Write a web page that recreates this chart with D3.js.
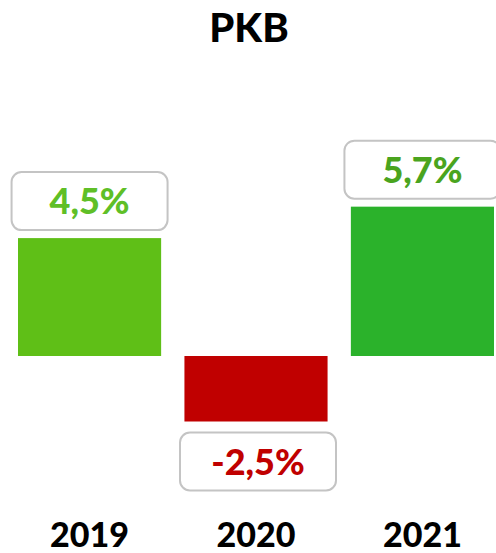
<!DOCTYPE html>
<html>
<head>
<meta charset="utf-8">
<script src="https://cdn.jsdelivr.net/npm/d3@7"></script>
<style>
  html, body { margin: 0; padding: 0; background: #fff; }
  svg text { font-family: Lato, "Open Sans", sans-serif; font-weight: 900; }
</style>
</head>
<body>
<svg width="496" height="553"></svg>
<script>
// Data
const years = ["2019", "2020", "2021"];
const values = [4.5, -2.5, 5.7];
const labels = ["4,5%", "-2,5%", "5,7%"];
const barColors = ["#5fbf17", "#c00000", "#2bb22b"];
const labelColors = ["#5fbf27", "#c00000", "#4aa41e"];

const svg = d3.select("svg");
const W = 496, H = 553;

// Scales
const x = d3.scaleBand()
    .domain(years)
    .range([18, 494])
    .paddingInner(0.14)
    .paddingOuter(0);

const y = d3.scaleLinear()
    .domain([-3, 6])
    .range([356 + 3 * 26.2, 356 - 6 * 26.2]);

// Title
svg.append("text")
    .attr("x", W / 2 + 1)
    .attr("y", 42)
    .attr("text-anchor", "middle")
    .style("font-size", "40px")
    .style("fill", "#000")
    .text("PKB");

// Bars
svg.selectAll("rect.bar")
    .data(values)
    .enter().append("rect")
    .attr("class", "bar")
    .attr("x", (d, i) => x(years[i]))
    .attr("y", d => y(Math.max(0, d)))
    .attr("width", x.bandwidth())
    .attr("height", d => Math.abs(y(d) - y(0)))
    .attr("fill", (d, i) => barColors[i]);

// Value boxes
const boxW = 156, boxH = 58;
const boxes = svg.selectAll("g.lbl")
    .data(values)
    .enter().append("g")
    .attr("class", "lbl")
    .attr("transform", (d, i) => {
        const cx = x(years[i]) + x.bandwidth() / 2 + (d < 0 ? 2 : 0);
        const top = d >= 0 ? y(d) - 8 - boxH : y(d) + 11;
        return `translate(${cx},${top})`;
    });

boxes.append("rect")
    .attr("x", -boxW / 2)
    .attr("y", 0)
    .attr("width", boxW)
    .attr("height", boxH)
    .attr("rx", 10)
    .attr("fill", "#fff")
    .attr("stroke", "#c4c4c4")
    .attr("stroke-width", 2);

boxes.append("text")
    .attr("x", 0)
    .attr("y", boxH / 2 + 13)
    .attr("text-anchor", "middle")
    .style("font-size", "36px")
    .style("fill", (d, i) => labelColors[i])
    .text((d, i) => labels[i]);

// Year labels
svg.selectAll("text.year")
    .data(years)
    .enter().append("text")
    .attr("class", "year")
    .attr("x", d => x(d) + x.bandwidth() / 2)
    .attr("y", 547)
    .attr("text-anchor", "middle")
    .style("font-size", "34px")
    .style("fill", "#000")
    .text(d => d);
</script>
</body>
</html>
